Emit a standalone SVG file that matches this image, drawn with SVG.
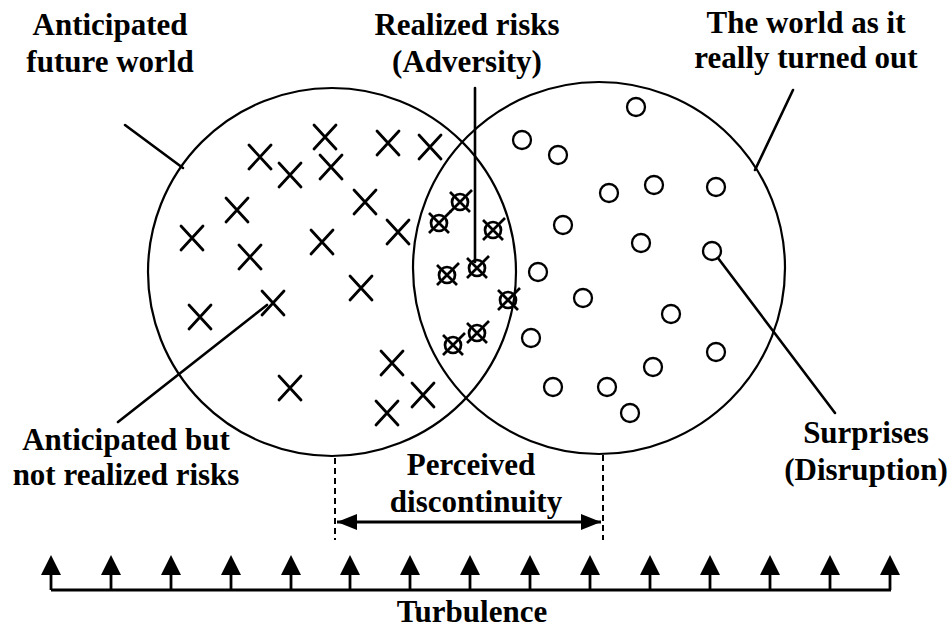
<svg xmlns="http://www.w3.org/2000/svg" width="951" height="634" viewBox="0 0 951 634">
<style>
.lbl{font-family:"Liberation Serif","Times New Roman",serif;font-weight:bold;font-size:31px;fill:#000;text-anchor:middle}
.ring{fill:none;stroke:#000;stroke-width:2.2}
.ln{fill:none;stroke:#000;stroke-width:2.6;stroke-linecap:round}
.dash{fill:none;stroke:#000;stroke-width:2;stroke-dasharray:6 4}
.x{fill:none;stroke:#000;stroke-width:2.8;stroke-linecap:round}
.o{fill:#fff;stroke:#000;stroke-width:2.3}
.ox{fill:none;stroke:#000;stroke-width:2.7}
</style>
<defs>
<path id="cross" d="M-11,-12 L11,12 M11,-12 L-11,12" class="x"/>
<g id="ocross"><circle r="8" class="ox"/><path d="M-10,-10 L10,10 M12,-12 L-10,10" class="ox"/></g>
<g id="up"><path d="M0,0 V-16" stroke="#000" stroke-width="2.8"/><path d="M0,-35 L10,-15 L-10,-15 Z" fill="#000"/></g>
<marker id="ah" viewBox="0 0 20 16" refX="20" refY="8" markerWidth="20" markerHeight="16" markerUnits="userSpaceOnUse" orient="auto-start-reverse"><path d="M0,0 L20,8 L0,16 Z" fill="#000"/></marker>
</defs>
<rect width="951" height="634" fill="#fff"/>

<g id="anticipated-world">
<circle cx="332" cy="272" r="184" class="ring"/>
<use href="#cross" x="260" y="157"/><use href="#cross" x="290" y="175"/><use href="#cross" x="325" y="137"/><use href="#cross" x="331" y="167"/>
<use href="#cross" x="388" y="143"/><use href="#cross" x="430" y="147"/><use href="#cross" x="237" y="210"/><use href="#cross" x="192" y="238"/>
<use href="#cross" x="250" y="257"/><use href="#cross" x="322" y="242"/><use href="#cross" x="365" y="202"/><use href="#cross" x="398" y="232"/>
<use href="#cross" x="200" y="317"/><use href="#cross" x="273" y="303"/><use href="#cross" x="361" y="288"/><use href="#cross" x="392" y="363"/>
<use href="#cross" x="290" y="388"/><use href="#cross" x="423" y="395"/><use href="#cross" x="387" y="413"/>
</g>

<g id="real-world">
<circle cx="599" cy="268" r="186" class="ring"/>
<circle cx="636" cy="107" r="9" class="o"/><circle cx="522" cy="140" r="9" class="o"/><circle cx="558" cy="155" r="9" class="o"/>
<circle cx="609" cy="193" r="9" class="o"/><circle cx="654" cy="185" r="9" class="o"/><circle cx="716" cy="187" r="9" class="o"/>
<circle cx="563" cy="225" r="9" class="o"/><circle cx="641" cy="243" r="9" class="o"/><circle cx="712" cy="251" r="9" class="o"/>
<circle cx="538" cy="272" r="9" class="o"/><circle cx="583" cy="298" r="9" class="o"/><circle cx="671" cy="314" r="9" class="o"/>
<circle cx="531" cy="338" r="9" class="o"/><circle cx="716" cy="352" r="9" class="o"/><circle cx="653" cy="367" r="9" class="o"/>
<circle cx="553" cy="387" r="9" class="o"/><circle cx="607" cy="387" r="9" class="o"/><circle cx="630" cy="413" r="9" class="o"/>
</g>

<g id="realized-risks">
<use href="#ocross" x="460" y="202"/><use href="#ocross" x="439" y="223"/><use href="#ocross" x="493" y="230"/>
<use href="#ocross" x="447" y="275"/><use href="#ocross" x="477" y="268"/><use href="#ocross" x="508" y="300"/>
<use href="#ocross" x="477" y="333"/><use href="#ocross" x="453" y="345"/>
</g>

<g id="connectors">
<line x1="125" y1="125" x2="183" y2="168" class="ln"/>
<line x1="793" y1="90" x2="755" y2="170" class="ln"/>
<line x1="475" y1="88" x2="475" y2="262" class="ln"/>
<line x1="118" y1="422" x2="267" y2="305" class="ln"/>
<line x1="718" y1="258" x2="835" y2="413" class="ln"/>
<line x1="335" y1="458" x2="335" y2="540" class="dash"/>
<line x1="603" y1="455" x2="603" y2="540" class="dash"/>
<line x1="337" y1="522" x2="601" y2="522" stroke="#000" stroke-width="2.8" marker-start="url(#ah)" marker-end="url(#ah)"/>
</g>

<g id="turbulence">
<line x1="51" y1="590" x2="891" y2="590" stroke="#000" stroke-width="2.8"/>
<use href="#up" x="51" y="590"/><use href="#up" x="111" y="590"/><use href="#up" x="171" y="590"/><use href="#up" x="231" y="590"/>
<use href="#up" x="291" y="590"/><use href="#up" x="350" y="590"/><use href="#up" x="410" y="590"/><use href="#up" x="470" y="590"/>
<use href="#up" x="530" y="590"/><use href="#up" x="590" y="590"/><use href="#up" x="650" y="590"/><use href="#up" x="710" y="590"/>
<use href="#up" x="770" y="590"/><use href="#up" x="830" y="590"/><use href="#up" x="890" y="590"/>
</g>

<g id="labels">
<text class="lbl" x="110" y="35">Anticipated</text>
<text class="lbl" x="110" y="72">future world</text>
<text class="lbl" x="467" y="35">Realized risks</text>
<text class="lbl" x="467" y="72">(Adversity)</text>
<text class="lbl" x="806" y="33">The world as it</text>
<text class="lbl" x="806" y="68">really turned out</text>
<text class="lbl" x="126" y="450">Anticipated but</text>
<text class="lbl" x="126" y="485">not realized risks</text>
<text class="lbl" x="866" y="443">Surprises</text>
<text class="lbl" x="866" y="480">(Disruption)</text>
<text class="lbl" x="471" y="475">Perceived</text>
<text class="lbl" x="476" y="512">discontinuity</text>
<text class="lbl" x="472" y="622">Turbulence</text>
</g>
</svg>
